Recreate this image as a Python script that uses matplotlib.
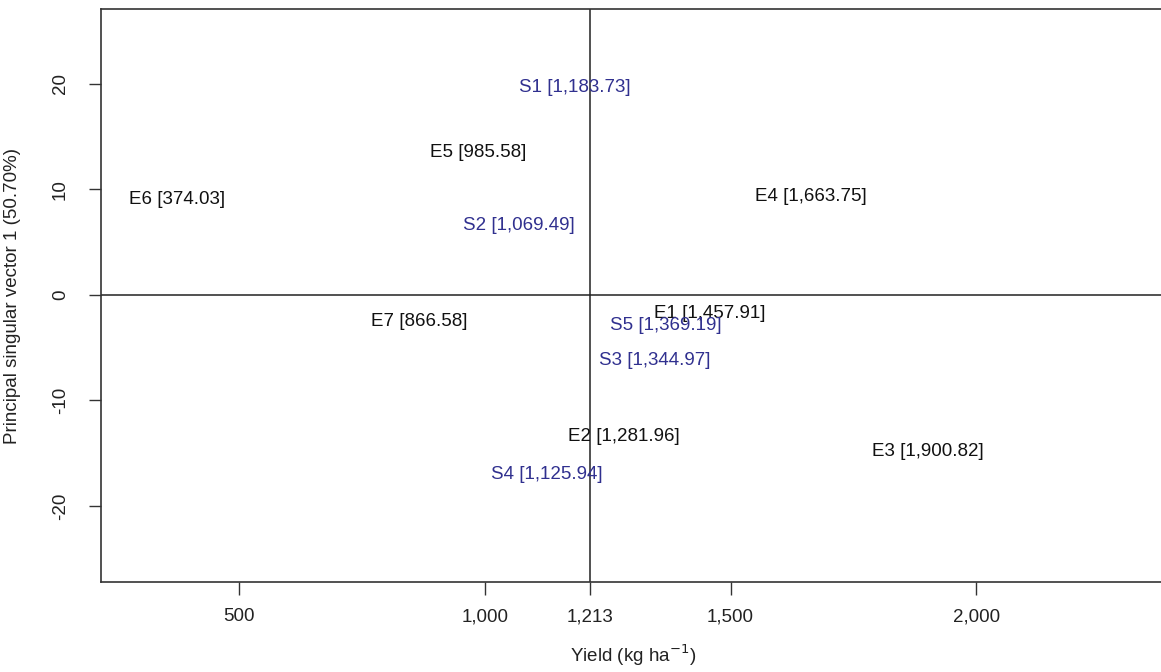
import matplotlib
matplotlib.use('Agg')
import matplotlib.pyplot as plt

plt.rcParams['font.family'] = ['Liberation Sans', 'DejaVu Sans']

# environments (E) and sites/genotypes (S): mean yield and PC1 score
env_names = ['E1', 'E2', 'E3', 'E4', 'E5', 'E6', 'E7']
env_yield = [1457.91, 1281.96, 1900.82, 1663.75, 985.58, 374.03, 866.58]
env_pc1 = [-1.8, -13.4, -14.8, 9.3, 13.5, 9.0, -2.5]

gen_names = ['S1', 'S2', 'S3', 'S4', 'S5']
gen_yield = [1183.73, 1069.49, 1344.97, 1125.94, 1369.19]
gen_pc1 = [19.7, 6.6, -6.2, -17.0, -2.9]

grand_mean = 1213
x_ticks = [500, 1000, 1213, 1500, 2000]
x_tick_labels = ['500', '1,000', '1,213', '1,500', '2,000']
y_ticks = [-20, -10, 0, 10, 20]

W, H = 1161, 672
fig = plt.figure(figsize=(W / 100, H / 100), dpi=100)
ax = fig.add_axes([101 / W, 1 - 582 / H, (1165 - 101) / W, (582 - 9) / H])

fs = 13.5
for name, x, y in zip(env_names, env_yield, env_pc1):
    ax.text(x, y, '%s [%s]' % (name, format(x, ',.2f')), ha='center',
            va='center', fontsize=fs, color='#111111')
for name, x, y in zip(gen_names, gen_yield, gen_pc1):
    ax.text(x, y, '%s [%s]' % (name, format(x, ',.2f')), ha='center',
            va='center', fontsize=fs, color='#30308f')

ax.axvline(grand_mean, color='#222222', lw=1.1)
ax.axhline(0, color='#222222', lw=1.1)

ax.set_xlim(219, 2384)
ax.set_ylim(-27.2, 27.1)
ax.set_xticks(x_ticks)
ax.set_xticklabels(x_tick_labels)
ax.set_yticks(y_ticks)
ax.set_yticklabels([str(t) for t in y_ticks], rotation=90, va='center')
ax.tick_params(length=9, width=1, labelsize=fs, color='#333333',
               labelcolor='#222222')
ax.tick_params(axis='x', pad=10)
ax.tick_params(axis='y', pad=14)
for s in ax.spines.values():
    s.set_color('#333333')
    s.set_linewidth(1.2)

ax.set_xlabel('Yield (kg ha$^{-1}$)', fontsize=fs, color='#222222', labelpad=12)
ax.set_ylabel('Principal singular vector 1 (50.70%)', fontsize=fs,
              color='#222222', labelpad=22)

fig.savefig('out.png', dpi=100)
